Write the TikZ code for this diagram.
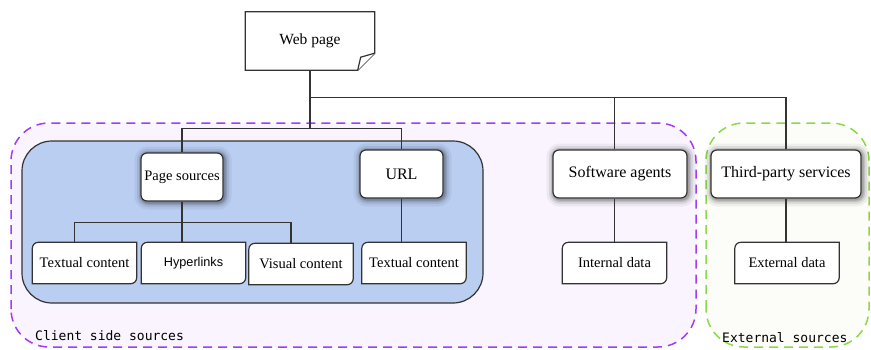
\documentclass[tikz,border=0pt]{standalone}
\usepackage{fontspec}
\setmainfont{Liberation Serif}
\setmonofont{DejaVu Sans Mono}
\newfontfamily\semserifa{Liberation Sans}
\definecolor{roxo}{HTML}{A23CF5}
\definecolor{roxoclaro}{HTML}{F9F4FD}
\definecolor{verde}{HTML}{8AD94A}
\definecolor{verdeclaro}{HTML}{FCFDF9}
\definecolor{azul}{HTML}{BACEF2}
\definecolor{contorno}{HTML}{333333}
\pgfdeclarelayer{fundo}
\pgfsetlayers{fundo,main}

\begin{document}
\begin{tikzpicture}[x=1pt,y=1pt]
        \tikzstyle{linha}=[draw=contorno, line width=1.2pt]
        \tikzstyle{sombra}=[preaction={draw=black, opacity=.05, line width=15pt, transform canvas={xshift=1pt, yshift=-1pt}},
          preaction={draw=black, opacity=.08, line width=10pt, transform canvas={xshift=1pt, yshift=-1pt}},
          preaction={draw=black, opacity=.12, line width=6pt, transform canvas={xshift=1pt, yshift=-1pt}},
          preaction={draw=black, opacity=.15, line width=3pt, transform canvas={xshift=1pt, yshift=-1pt}}]
        \tikzstyle{caixa}=[linha, sombra, fill=white, rounded corners=6pt, minimum height=48pt, inner xsep=3pt,
          font=\fontsize{16}{18}\selectfont]
        \tikzstyle{dado}=[minimum width=104pt, minimum height=41pt, inner sep=0pt, font=\fontsize{14.5}{16}\selectfont]
        \tikzstyle{regiao}=[line width=1.5pt, dash pattern=on 9pt off 6pt, rounded corners=38pt]
        \tikzstyle{rotulo}=[anchor=base west, inner sep=0pt, font=\ttfamily\fontsize{13}{15}\selectfont]

        \useasboundingbox (0,0) rectangle (871,349);

        \begin{pgfonlayer}{fundo}
          \draw[regiao, draw=roxo, fill=roxoclaro] (11,2) rectangle (696,226);
          \draw[regiao, draw=verde, fill=verdeclaro] (706,2) rectangle (869,226);
          \draw[linha, fill=azul, rounded corners=30pt] (22,46) rectangle (483,208);
        \end{pgfonlayer}

        \node (web) at (310,308)[minimum width=129pt, minimum height=58pt, font=\fontsize{15.5}{17}\selectfont]{Web page};

        \node (ps) at (182,172)[caixa, minimum width=82pt, font=\fontsize{14.5}{16}\selectfont]{Page sources};
        \node (url) at (401.5,175)[caixa, minimum width=83pt]{URL};
        \node (sw) at (620,175)[caixa, minimum width=134pt]{Software agents};
        \node (tp) at (786,175)[caixa, minimum width=150pt]{Third-party services};

        \node (tc1) at (84.5,86)[dado]{Textual content};
        \node (hl) at (193.5,86)[dado, font=\semserifa\fontsize{12.7}{14}\selectfont]{Hyperlinks};
        \node (vc) at (301,85)[dado]{Visual content};
        \node (tc2) at (414,86)[dado]{Textual content};
        \node (id) at (614.5,86)[dado]{Internal data};
        \node (ed) at (787,86)[dado]{External data};

        \begin{pgfonlayer}{fundo}
          \draw[linha, fill=white] (web.north west) -- (web.north east) -- ([yshift=17pt]web.south east)
            -- ([xshift=-17pt]web.south east) -- (web.south west) -- cycle;
          \draw[linha, fill=white] ([yshift=17pt]web.south east) -- ([xshift=-14pt,yshift=13pt]web.south east)
            -- ([xshift=-17pt]web.south east);
          \foreach \n in {tc1,hl,vc,tc2,id,ed}
            \draw[linha, fill=white] ([yshift=-6pt]\n.north west) arc[start angle=180, end angle=90, radius=6pt]
              -- (\n.north east) -- ([yshift=6pt]\n.south east) arc[start angle=0, end angle=-90, radius=6pt]
              -- (\n.south west) -- cycle;
        \end{pgfonlayer}

        \path (web.south) ++(0,-27) coordinate (eixo) ++(0,-31) coordinate (ramo);
        \path (ps.south) ++(0,-21) coordinate (garfo);

        \draw[linha] (web.south) -- (ramo);
        \draw[linha] (eixo) -| (tp.north);
        \draw[linha] (eixo -| id.north) -- (id.north |- sw.north);
        \draw[linha] (ps.north) |- (ramo) -| (url.north);

        \draw[linha] (ps.south) -- (ps.south |- hl.north);
        \draw[linha] ([xshift=-10pt]tc1.north) |- (garfo) -| ([xshift=-10pt]vc.north);
        \draw[linha] (url.south) -- (url.south |- tc2.north);
        \draw[linha] (id.north |- sw.south) -- (id.north);
        \draw[linha] (tp.south) -- (tp.south |- ed.north);

        \node (cliente) at (35,9)[rotulo]{Client side sources};
        \node (externo) at (722,7)[rotulo]{External sources};
      \end{tikzpicture}
\end{document}
